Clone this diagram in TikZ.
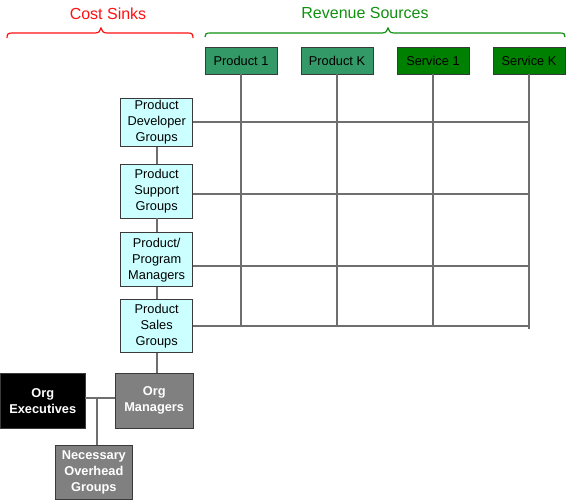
\documentclass[tikz,border=0pt]{standalone}
\usepackage{fontspec}
\setmainfont{Liberation Sans}
\definecolor{boxborder}{HTML}{3A3A3A}
\definecolor{conn}{HTML}{6E6E6E}
\definecolor{prodgreen}{HTML}{339966}
\definecolor{servgreen}{HTML}{008000}
\definecolor{costcyan}{HTML}{CCFFFF}
\definecolor{orggray}{HTML}{808080}
\definecolor{costred}{HTML}{FF1010}
\definecolor{revgreen}{HTML}{109010}
\begin{document}
\begin{tikzpicture}[x=1pt,y=-1pt,
  box/.style={draw=boxborder, line width=0.9pt, inner sep=0pt, align=center,
    font=\fontsize{12.8}{16}\selectfont},
  revbox/.style={box, minimum width=72pt, minimum height=27pt},
  costbox/.style={box, fill=costcyan, minimum width=72pt},
  orgbox/.style={box, font=\bfseries\fontsize{12.8}{16}\selectfont, text=white},
  wire/.style={draw=conn, line width=1.6pt},
  brace/.style={line width=1.2pt},
  bracelabel/.style={font=\fontsize{16}{19}\selectfont, inner sep=0pt}]
\useasboundingbox (0,0) rectangle (566,501);

% braces and labels
\node[bracelabel, text=costred] (costlbl) at (108,14) {Cost Sinks};
\node[bracelabel, text=revgreen] (revlbl) at (365,13) {Revenue Sources};
\draw[brace, costred] (7,38) .. controls (7,34) and (8,33) .. (12,33) -- (95,33)
  .. controls (99,33) and (100,31) .. (101,28) .. controls (102,31) and (103,33) .. (107,33)
  -- (188,33) .. controls (192,33) and (193,34) .. (193,38);
\draw[brace, revgreen] (205,37) .. controls (205,34) and (206,33) .. (210,33) -- (382,33)
  .. controls (386,33) and (387,31) .. (388,28) .. controls (389,31) and (390,33) .. (394,33)
  -- (560,33) .. controls (564,33) and (565,34) .. (565,37);

% revenue boxes
\node[revbox, fill=prodgreen] (p1) at (241,60.5) {Product 1};
\node[revbox, fill=prodgreen] (pk) at (337,60.5) {Product K};
\node[revbox, fill=servgreen] (s1) at (433,60.5) {Service 1};
\node[revbox, fill=servgreen] (sk) at (529,60.5) {Service K};

% cost boxes
\node[costbox, minimum height=47.7pt] (dev) at (156.7,122.2) {Product\\Developer\\Groups};
\node[costbox, minimum height=54pt] (sup) at (156.7,191) {Product\\Support\\Groups};
\node[costbox, minimum height=54pt] (prog) at (156.7,259.7) {Product/\\Program\\Managers};
\node[costbox, minimum height=53.7pt] (sales) at (156.7,325.8) {Product\\Sales\\Groups};

% org boxes
\node[orgbox, fill=black, minimum width=84.5pt, minimum height=55pt] (exec) at (42.75,400.8) {Org\\Executives};
\node[orgbox, fill=orggray, minimum width=78.3pt, minimum height=55pt] (mgr) at (154.2,400.8) {Org\\Managers};
\node[orgbox, fill=orggray, minimum width=77.7pt, minimum height=53.6pt] (ovh) at (93.85,472.5) {Necessary\\Overhead\\Groups};

% row coordinates
\coordinate (r1) at (0,122);
\coordinate (r2) at (0,193.7);
\coordinate (r3) at (0,265.7);
\coordinate (r4) at (0,325.7);
\coordinate (r4k) at (0,329.3);
\coordinate (jn) at (96.7,397.7);

% grid wires
\draw[wire] (p1.south) -- (p1.south |- r4);
\draw[wire] (pk.south) -- (pk.south |- r4);
\draw[wire] (s1.south) -- (s1.south |- r4);
\draw[wire] (sk.south) -- (sk.south |- r4k);
\draw[wire] (dev.east |- r1) -- (sk.south |- r1);
\draw[wire] (sup.east |- r2) -- (sk.south |- r2);
\draw[wire] (prog.east |- r3) -- (sk.south |- r3);
\draw[wire] (sales.east |- r4) -- (sk.south |- r4);

% vertical chain
\draw[wire] (dev.south) -- (sup.north);
\draw[wire] (sup.south) -- (prog.north);
\draw[wire] (prog.south) -- (sales.north);
\draw[wire] (sales.south) -- (sales.south |- mgr.north);

% org wires
\draw[wire] (exec.east |- jn) -- (mgr.west |- jn);
\draw[wire] (jn) -- (jn |- ovh.north);
\end{tikzpicture}
\end{document}
